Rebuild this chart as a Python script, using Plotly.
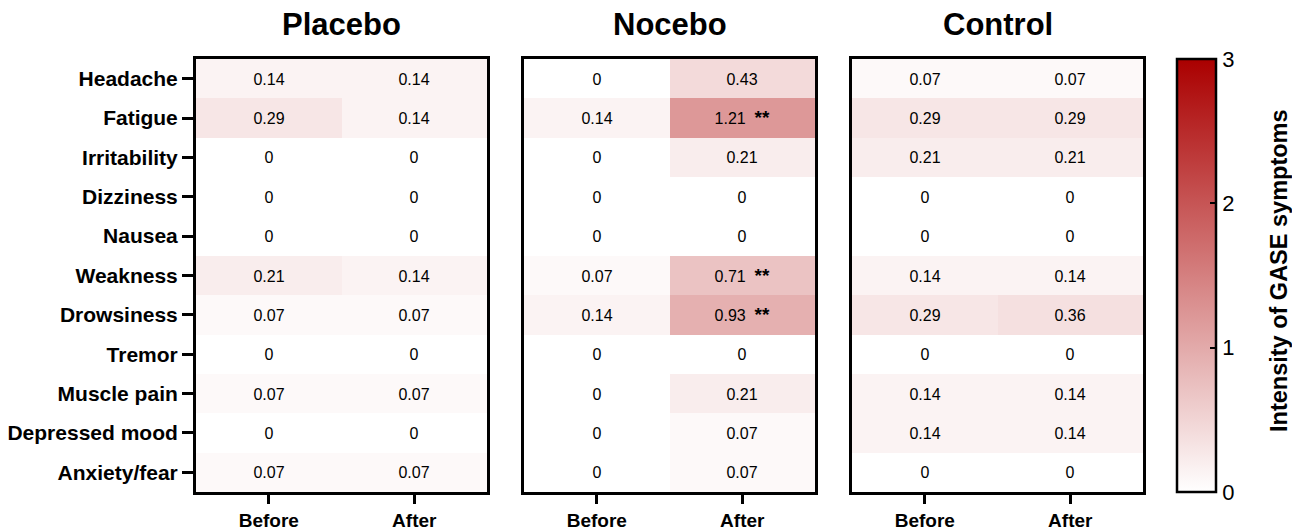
import plotly.graph_objects as go
from plotly.subplots import make_subplots

symptoms = ["Headache", "Fatigue", "Irritability", "Dizziness", "Nausea", "Weakness",
            "Drowsiness", "Tremor", "Muscle pain", "Depressed mood", "Anxiety/fear"]
timepoints = ["Before", "After"]
groups = ["Placebo", "Nocebo", "Control"]

placebo_before = [0.14, 0.29, 0, 0, 0, 0.21, 0.07, 0, 0.07, 0, 0.07]
placebo_after = [0.14, 0.14, 0, 0, 0, 0.14, 0.07, 0, 0.07, 0, 0.07]
nocebo_before = [0, 0.14, 0, 0, 0, 0.07, 0.14, 0, 0, 0, 0]
nocebo_after = [0.43, 1.21, 0.21, 0, 0, 0.71, 0.93, 0, 0.21, 0.07, 0.07]
control_before = [0.07, 0.29, 0.21, 0, 0, 0.14, 0.29, 0, 0.14, 0.14, 0]
control_after = [0.07, 0.29, 0.21, 0, 0, 0.14, 0.36, 0, 0.14, 0.14, 0]
nocebo_after_sig = ["", "**", "", "", "", "**", "**", "", "", "", ""]

data = {
    "Placebo": (placebo_before, placebo_after, [""] * len(symptoms)),
    "Nocebo": (nocebo_before, nocebo_after, nocebo_after_sig),
    "Control": (control_before, control_after, [""] * len(symptoms)),
}

FONT = "Liberation Sans, Arial"
colorscale = [[0, "#FFFFFF"], [1, "#AA0000"]]
W, H = 1300, 530
OFF = 8  # page body margin
panel_x = [(196 - OFF, 487 - OFF), (524 - OFF, 815 - OFF), (852 - OFF, 1143 - OFF)]
top, bottom = 59 - OFF, 492 - OFF

fig = make_subplots(rows=1, cols=3)


def fmt(v):
    return "0" if v == 0 else f"{v:.2f}"


def cell(v, s):
    if not s:
        return fmt(v)
    return fmt(v) + f"  <span style='font-size:19px'><b>{s}</b></span>"


for i, g in enumerate(groups):
    before, after, sig = data[g]
    z = [[b, a] for b, a in zip(before, after)]
    text = [[fmt(b), cell(a, s)] for b, a, s in zip(before, after, sig)]
    fig.add_trace(go.Heatmap(
        z=z, x=timepoints, y=symptoms, text=text, texttemplate="%{text}",
        textfont=dict(size=16, color="black", family=FONT),
        colorscale=colorscale, zmin=0, zmax=3, xgap=0, ygap=0,
        showscale=(i == 0), hoverinfo="skip",
        colorbar=dict(
            x=(1177 - OFF) / W, xanchor="left", y=1 - top / H, yanchor="top",
            xpad=0, ypad=0,
            thickness=39, thicknessmode="pixels",
            len=bottom - top, lenmode="pixels",
            outlinecolor="black", outlinewidth=2.5,
            tickvals=[0, 1, 2, 3], ticks="inside", ticklen=7, tickwidth=2, tickcolor="black",
            tickfont=dict(size=22, color="black", family=FONT),
        ),
    ), row=1, col=i + 1)

    x0, x1 = panel_x[i]
    xa = "xaxis" if i == 0 else f"xaxis{i + 1}"
    ya = "yaxis" if i == 0 else f"yaxis{i + 1}"
    fig.layout[xa].update(
        domain=[x0 / W, x1 / W], showline=True, linecolor="black", linewidth=3, mirror=True,
        ticks="outside", ticklen=9, tickwidth=2.5, tickcolor="black", showgrid=False, zeroline=False,
        tickfont=dict(size=19, color="black", family=FONT, weight="bold"),
        automargin=False,
    )
    fig.layout[ya].update(
        domain=[1 - bottom / H, 1 - top / H], autorange="reversed",
        showline=True, linecolor="black", linewidth=3, mirror=True,
        ticks="outside" if i == 0 else "", ticklen=11, tickwidth=2.5, tickcolor="black",
        showticklabels=(i == 0), showgrid=False, zeroline=False,
        tickfont=dict(size=21, color="black", family=FONT, weight="bold"),
        automargin=False,
    )
    fig.add_annotation(
        text=f"<b>{g}</b>", x=(x0 + x1) / 2 / W, y=1 - (25 - OFF) / H, xref="paper", yref="paper",
        xanchor="center", yanchor="middle", showarrow=False,
        font=dict(size=31, color="black", family=FONT),
    )

# colour bar title
fig.add_annotation(
    text="<b>Intensity of GASE symptoms</b>", textangle=-90,
    x=(1279 - OFF) / W, y=1 - (271 - OFF) / H, xref="paper", yref="paper",
    xanchor="center", yanchor="middle", showarrow=False,
    font=dict(size=23.5, color="black", family=FONT),
)

fig.update_layout(
    width=W, height=H, margin=dict(l=0, r=0, t=0, b=0),
    paper_bgcolor="white", plot_bgcolor="white",
)

fig.write_html("out.html")
